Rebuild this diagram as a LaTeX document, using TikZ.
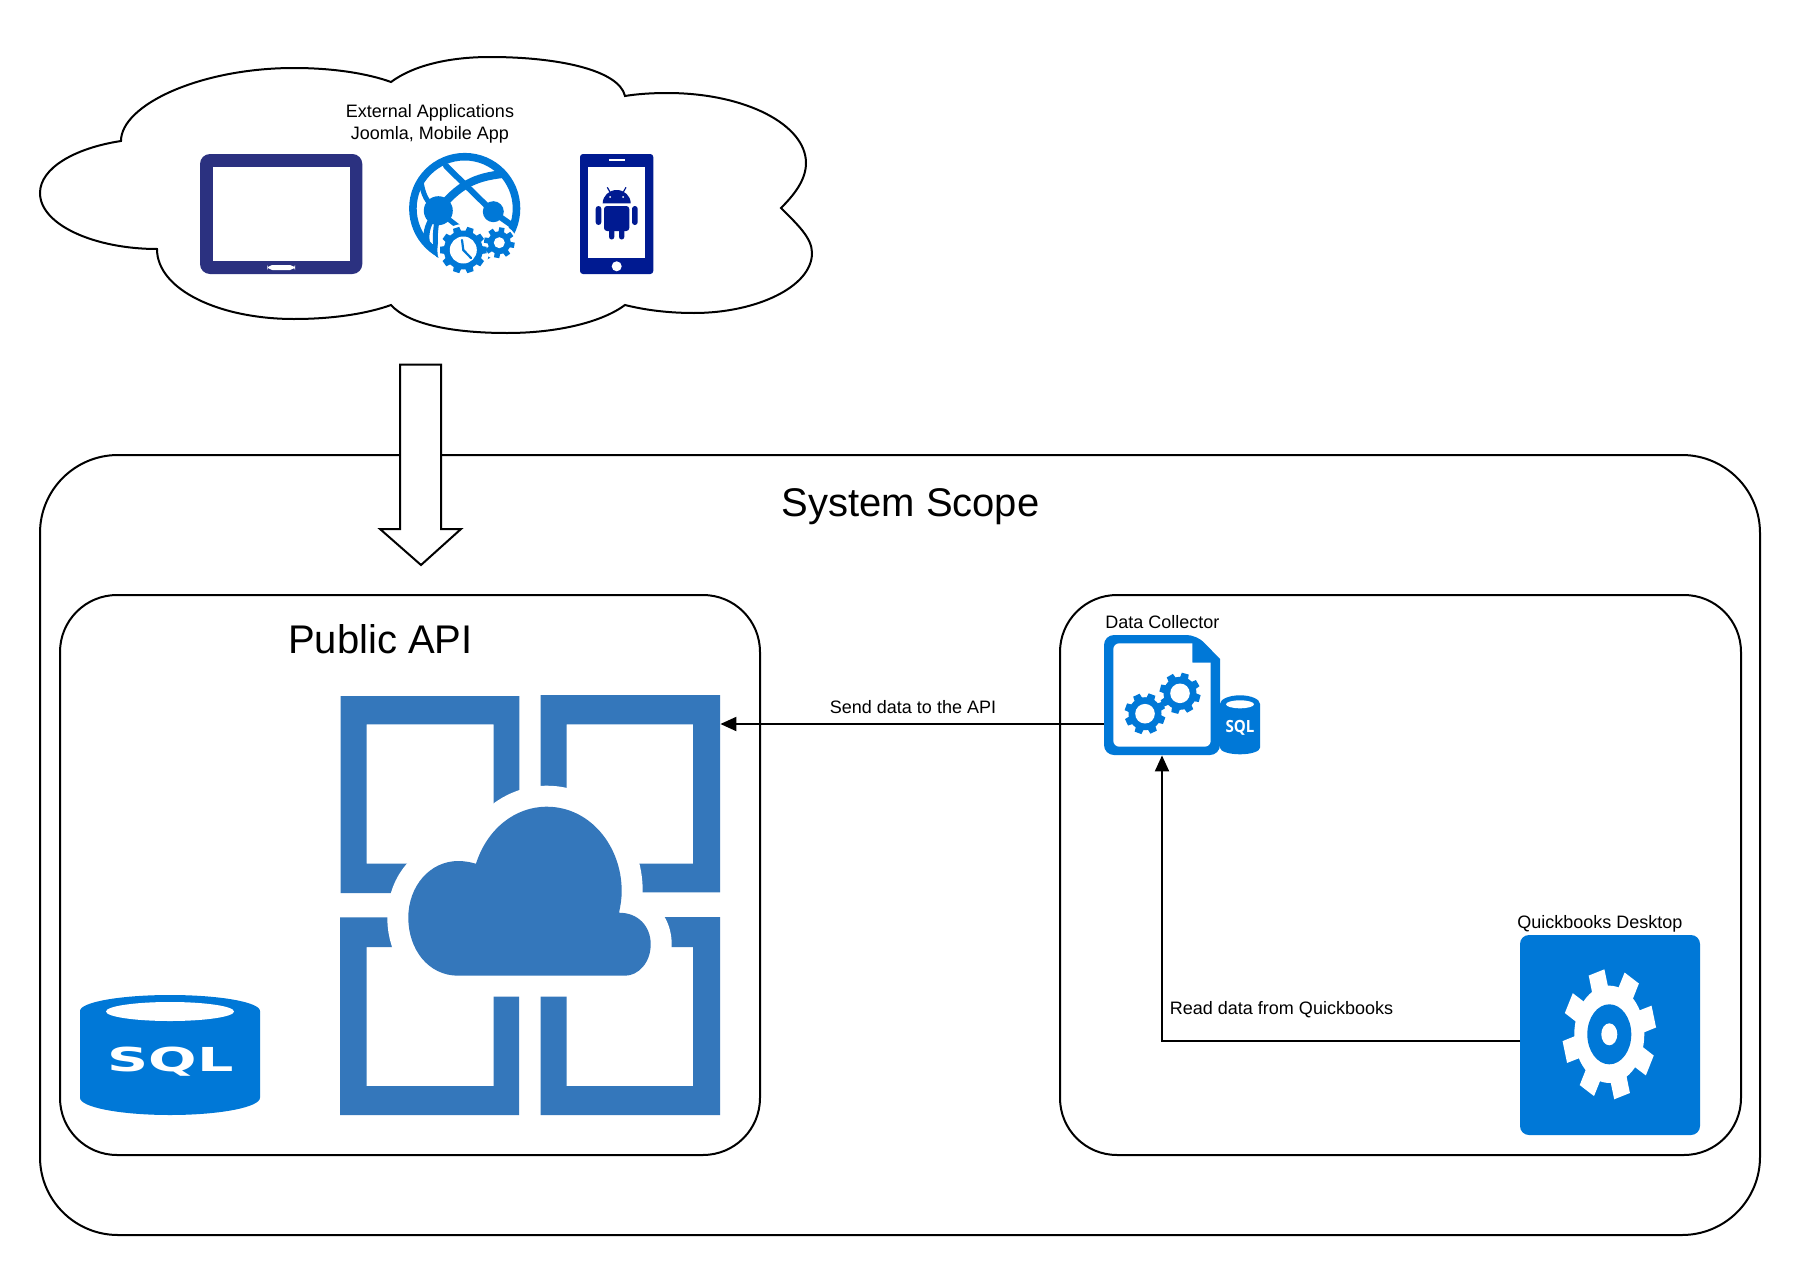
\documentclass[tikz,border=0pt]{standalone}
\usepackage{fontspec}
\usepackage{graphicx}
\setmainfont{Liberation Sans}
\newfontfamily\sqlheavy{DejaVu Sans}
\newfontfamily\sqlsans{Open Sans}
\usetikzlibrary{arrows.meta,fit}
\definecolor{azureblue}{HTML}{3477BB}
\definecolor{msblue}{HTML}{0078D7}
\definecolor{tabletblue}{HTML}{2B3180}
\definecolor{phoneblue}{HTML}{001A91}
\tikzset{
  outline/.style={draw=black,line width=1pt},
  container/.style={outline,inner sep=0pt,rounded corners=#1},
  iconarea/.style={inner sep=0pt},
  conn/.style={draw=black,line width=1pt,-{Triangle[length=8pt,width=7pt]}},
  smalltext/.style={inner sep=0pt,font=\fontsize{9}{10.8}\selectfont},
  bigtext/.style={inner sep=0pt,font=\fontsize{20}{24}\selectfont},
  globeline/.style={draw=msblue,line cap=round}
}
% centre x, centre y, outer r, root r, hole r, teeth, rotation, gear colour, hole colour
\newcommand{\gearshape}[9]{%
  \begin{scope}[shift={(#1,#2)}]
    \fill[#8] (0,0) circle[radius=#4];
    \pgfmathsetmacro{\gearstep}{360/#6}
    \pgfmathsetmacro{\gearw}{\gearstep*0.33}
    \pgfmathsetmacro{\gearv}{\gearstep*0.22}
    \foreach \k in {1,...,#6}{
      \pgfmathsetmacro{\geara}{#7+\k*\gearstep}
      \fill[#8] ({\geara-\gearw}:#4-0.5) -- ({\geara-\gearv}:#3) -- ({\geara+\gearv}:#3) -- ({\geara+\gearw}:#4-0.5) -- cycle;
    }
    \fill[#9] (0,0) circle[radius=#5];
  \end{scope}}
\begin{document}
\begin{tikzpicture}[x=0.5pt,y=-0.5pt]
\useasboundingbox (0,0) rectangle (1800,1274);
\fill[white] (0,0) rectangle (1800,1274);

% containers
\node[container=39pt,fit={(40,455) (1760,1235)}] (scope) {};
\node[container=28.5pt,fit={(60,595) (760,1155)}] (apibox) {};
\node[container=28.5pt,fit={(1060,595) (1741,1155)}] (collectbox) {};

% cloud
\path[outline,fill=white] (121,141)
  .. controls (121,105) and (200,68) .. (294,68)
  .. controls (335,68) and (369,74) .. (391,82)
  .. controls (414,65) and (450,57) .. (490,57)
  .. controls (558,57) and (619,70) .. (625,96)
  .. controls (637,94) and (652,93) .. (667,93)
  .. controls (746,93) and (806,125) .. (806,163)
  .. controls (806,180) and (794,195) .. (781,208)
  .. controls (798,225) and (812,238) .. (812,253)
  .. controls (812,287) and (756,313) .. (694,313)
  .. controls (668,313) and (645,310) .. (625,305)
  .. controls (602,322) and (558,333) .. (507,333)
  .. controls (455,333) and (409,325) .. (391,305)
  .. controls (369,313) and (335,319) .. (294,319)
  .. controls (220,319) and (157,290) .. (157,249)
  .. controls (95,249) and (40,225) .. (40,193)
  .. controls (40,168) and (75,148) .. (121,141) -- cycle;

% block arrow
\path[outline,fill=white,line join=miter] (400,364.5) -- (441,364.5) -- (441,529) -- (461,529)
  -- (421,565) -- (380,529) -- (400,529) -- cycle;

% labels
\node[smalltext,align=center] (exttext) at (430,124) {External Applications\\Joomla, Mobile App};
\node[bigtext] (scopetitle) at (910.5,507) {System Scope};
\node[bigtext] (apititle) at (380.5,639) {Public API};
\node[smalltext,anchor=west] (dctext) at (1105,622) {Data Collector};
\node[smalltext,anchor=west] (qbtext) at (1517,924) {Quickbooks Desktop};
\node[smalltext] (sendtext) at (913,707) {Send data to the API};
\node[smalltext] (readtext) at (1281.5,1010) {Read data from Quickbooks};

% tablet
\node[iconarea,fit={(200,154) (362.3,274)}] (tablet) {};
\fill[tabletblue,rounded corners=5pt] (200,154) rectangle (362.3,274);
\fill[white] (213,167) rectangle (350,260.7);
\fill[white,rounded corners=2.5pt] (267.3,265) rectangle (295,270);

% globe icon
\node[iconarea,fit={(409,154) (520,274)}] (globe) {};
\fill[msblue,even odd rule] (464.7,208.5) circle[radius=55.6] (464.7,208.5) circle[radius=48];
\draw[globeline,line width=4pt] (438,211) .. controls (458,185) and (475,177) .. (503,174);
\draw[globeline,line width=3pt] (446,166) -- (493,212) -- (513,226);
\draw[globeline,line width=2.5pt] (421,181) .. controls (423,195) and (427,203) .. (438,211);
\draw[globeline,line width=3pt] (438,211) .. controls (428,222) and (425,232) .. (427,243);
\draw[globeline,line width=2.5pt] (438,211) .. controls (436,230) and (433,240) .. (438,255);
\draw[globeline,line width=2.5pt] (438,211) -- (460,228);
\fill[msblue] (438.3,210.7) circle[radius=14.5];
\fill[msblue] (493.3,211.7) circle[radius=10.5];
\fill[white] (463.3,250) circle[radius=26];
\fill[white] (499.3,242.7) circle[radius=17.5];
\gearshape{463.3}{250}{23.5}{19.5}{13.5}{10}{0}{msblue}{white}
\gearshape{499.3}{242.7}{15.5}{11.5}{5.5}{8}{10}{msblue}{white}
\draw[msblue,line width=1.1pt,line cap=round] (462,240) -- (463.3,250) -- (471,258);

% phone
\node[iconarea,fit={(580,154) (653.3,274)}] (phone) {};
\fill[phoneblue,rounded corners=1.5pt] (580,154) rectangle (653.3,274);
\fill[white] (588,167.3) rectangle (645.3,258.3);
\fill[white] (609,159) rectangle (625.3,161.3);
\fill[white] (616.7,266.3) circle[radius=5];
\fill[phoneblue] (602.7,203.3) arc[start angle=180,end angle=360,x radius=14,y radius=13.3] -- cycle;
\draw[phoneblue,line width=0.6pt] (607.3,187.3) -- (610.5,193) (626,187.3) -- (622.8,193);
\fill[white] (610.2,197) circle[radius=1] (623.2,197) circle[radius=1];
\fill[phoneblue,rounded corners=1.5pt] (604,206) rectangle (629.3,231);
\fill[phoneblue,rounded corners=1.4pt] (595.7,206) rectangle (601.3,225);
\fill[phoneblue,rounded corners=1.4pt] (632,206) rectangle (637.7,225);
\fill[phoneblue,rounded corners=1.3pt] (609,226) rectangle (614.3,239.5);
\fill[phoneblue,rounded corners=1.3pt] (619,226) rectangle (624.3,239.5);

% azure app icon
\begin{scope}[yshift=-0.5pt]
\node[iconarea,fit={(340,694) (720,1114)}] (azure) {};
\fill[azureblue,even odd rule] (340.7,695) rectangle (519.3,892) (366.7,723.3) rectangle (493.7,862.7);
\fill[azureblue,even odd rule] (540.7,694) rectangle (720,891.3) (566.7,723.3) rectangle (693,862.7);
\fill[azureblue,even odd rule] (340,916.3) rectangle (519,1114) (366.7,946) rectangle (493.7,1085);
\fill[azureblue,even odd rule] (540.7,916) rectangle (720,1114) (566.7,946) rectangle (693,1085);
\path[fill=azureblue,draw=white,line width=21pt,line join=round]
  (476,862.7) .. controls (487,828) and (515,805.7) .. (546.7,805.7)
  .. controls (590,805.7) and (621.7,845) .. (621.7,890)
  .. controls (621.7,898) and (620.5,905) .. (619,911.7)
  .. controls (638,911.7) and (650.7,925) .. (650.7,943.3)
  .. controls (650.7,962) and (638,974.7) .. (625,974.7)
  -- (458.3,974.7)
  .. controls (428,974.7) and (408.3,948) .. (408.3,916.7)
  .. controls (408.3,885) and (430,860) .. (458.3,860)
  .. controls (464,860) and (470,861) .. (476,862.7) -- cycle;
\fill[azureblue]
  (476,862.7) .. controls (487,828) and (515,805.7) .. (546.7,805.7)
  .. controls (590,805.7) and (621.7,845) .. (621.7,890)
  .. controls (621.7,898) and (620.5,905) .. (619,911.7)
  .. controls (638,911.7) and (650.7,925) .. (650.7,943.3)
  .. controls (650.7,962) and (638,974.7) .. (625,974.7)
  -- (458.3,974.7)
  .. controls (428,974.7) and (408.3,948) .. (408.3,916.7)
  .. controls (408.3,885) and (430,860) .. (458.3,860)
  .. controls (464,860) and (470,861) .. (476,862.7) -- cycle;

% big SQL database
\node[iconarea,fit={(80,994) (260,1114)}] (apidb) {};
\fill[msblue] (80,1010) arc[start angle=180,end angle=360,x radius=90,y radius=16]
  -- (260,1096.7) arc[start angle=0,end angle=180,x radius=90,y radius=17.3] -- cycle;
\fill[white] (170,1010.5) ellipse[x radius=64,y radius=9.5];
\node[anchor=base,inner sep=0pt,text=white,font=\sqlheavy\bfseries\fontsize{16.5}{18}\selectfont] (apidbtext) at (170.5,1070) {\scalebox{1.73}[1]{SQL}};

% data collector icon
\node[iconarea,fit={(1104,634) (1220,754)}] (collector) {};
\fill[msblue] (1220,703) arc[start angle=180,end angle=360,x radius=20,y radius=8.7]
  -- (1260,746.7) arc[start angle=0,end angle=180,x radius=20,y radius=6.6] -- cycle;
\fill[white] (1240,703.3) ellipse[x radius=14,y radius=4];
\node[anchor=base,inner sep=0pt,text=white,font=\sqlsans\bfseries\fontsize{8.4}{10}\selectfont] (collectdbtext) at (1240,731) {\scalebox{0.9}[1]{SQL}};
\fill[msblue,rounded corners=5pt] (1104,634) -- (1196.7,634) [sharp corners] -- (1220,658) [rounded corners=5pt] -- (1220,754) -- (1104,754) -- cycle;
\fill[white,rounded corners=3pt] (1113.3,642.3) [sharp corners] -- (1192.3,642.3) -- (1192.3,661.7) -- (1210.7,661.7) [rounded corners=3pt] -- (1210.7,745.7) -- (1113.3,745.7) -- cycle;
\gearshape{1145}{712.7}{20.7}{16.5}{9.8}{8}{20}{msblue}{white}
\gearshape{1180}{692.3}{20.7}{16.5}{9.8}{8}{15}{msblue}{white}

% quickbooks icon
\node[iconarea,fit={(1520,934) (1700,1134)}] (qb) {};
\fill[msblue,rounded corners=4.5pt] (1520,934) rectangle (1700,1134);
\begin{scope}[shift={(1609.3,1033.3)},yscale=1.39]
  \fill[white] (0,0) circle[radius=35];
  \foreach \k in {0,...,7}{
    \pgfmathsetmacro{\teeth}{29+45*\k}
    \fill[white] ({\teeth-14}:34) -- ({\teeth-10}:47) -- ({\teeth+10}:47) -- ({\teeth+14}:34) -- cycle;
  }
  \fill[msblue] (0,0) circle[x radius=22,y radius=21.6];
  \fill[white] (0,0) circle[x radius=8,y radius=7.9];
\end{scope}

% connectors
\coordinate (sendlevel) at (1104,723);
\coordinate (readlevel) at (1520,1040);
\draw[conn] (sendlevel) -- (sendlevel -| azure.east);
\draw[conn] (readlevel) -- (readlevel -| collector.south) -- (collector.south);
\end{scope}
\end{tikzpicture}
\end{document}
